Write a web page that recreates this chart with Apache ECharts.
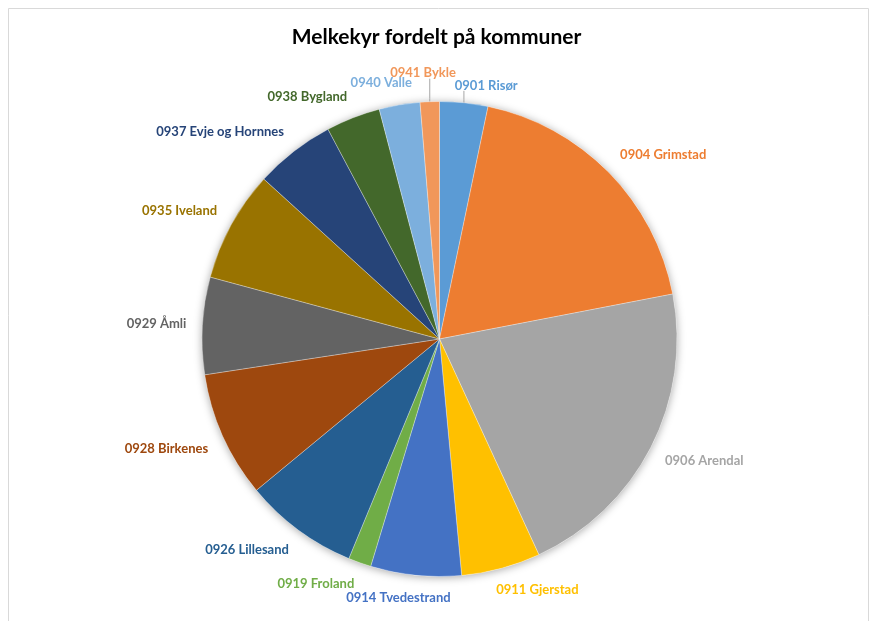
<!DOCTYPE html>
<html>
<head>
<meta charset="utf-8">
<script src="https://cdn.jsdelivr.net/npm/echarts@6/dist/echarts.min.js"></script>
<style>
html,body{margin:0;padding:0;background:#fff;}
#chart{width:873px;height:621px;}
</style>
</head>
<body>
<div id="chart"></div>
<script>
// Data (number of dairy cows per municipality)
const kommuner = ['0901 Risør','0904 Grimstad','0906 Arendal','0911 Gjerstad','0914 Tvedestrand','0919 Froland','0926 Lillesand','0928 Birkenes','0929 Åmli','0935 Iveland','0937 Evje og Hornnes','0938 Bygland','0940 Valle','0941 Bykle'];
const melkekyr = [118, 673, 762, 194, 222, 56, 280, 309, 238, 272, 197, 133, 100, 47];
const farger = ['#5B9BD5','#ED7D31','#A5A5A5','#FFC000','#4472C4','#70AD47','#255E91','#9E480E','#636363','#997300','#264478','#43682B','#7CAFDD','#F1975A'];

const CX = 439.5, CY = 339, RADIUS = 237.5, GAP = 16;
const total = melkekyr.reduce((a, b) => a + b, 0);
const cum = [];
melkekyr.reduce((acc, v, i) => { cum[i] = acc; return acc + v; }, 0);

// labels with leader lines (moved in the original)
const leaderNudge = { '0901 Risør': [11, 5], '0941 Bykle': [-2, -6] };

const chart = echarts.init(document.getElementById('chart'));
const clamp = v => Math.max(-1, Math.min(1, v));

chart.setOption({
  backgroundColor: '#ffffff',
  animation: false,
  title: {
    text: 'Melkekyr fordelt på kommuner',
    left: 'center',
    top: 22,
    textStyle: { fontFamily: 'Lato', fontWeight: 'bold', fontSize: 21, color: '#000' }
  },
  graphic: [{
    type: 'rect',
    shape: { x: 8.5, y: 8.5, width: 860, height: 640 },
    style: { fill: 'none', stroke: '#d9d9d9', lineWidth: 1 },
    silent: true
  }],
  series: [
    {
      type: 'pie',
      silent: true,
      center: [CX, CY],
      radius: RADIUS,
      z: 1,
      label: { show: false },
      labelLine: { show: false },
      itemStyle: { color: '#ffffff', shadowBlur: 8, shadowColor: 'rgba(0,0,0,0.35)', shadowOffsetX: 0, shadowOffsetY: 1 },
      data: [{ value: total, name: '' }]
    },
    {
      type: 'pie',
      center: [CX, CY],
      radius: RADIUS,
      startAngle: 90,
      clockwise: true,
      z: 2,
      avoidLabelOverlap: false,
      itemStyle: { borderColor: 'rgba(255,255,255,0.6)', borderWidth: 0.5 },
      label: {
        show: true,
        position: 'outside',
        fontFamily: 'Lato',
        fontWeight: 'bold',
        fontSize: 13,
        formatter: '{b}'
      },
      labelLine: { show: false, lineStyle: { color: '#a6a6a6', width: 1 } },
      labelLayout: function (p) {
        const i = p.dataIndex;
        const mid = (cum[i] + melkekyr[i] / 2) / total * 2 * Math.PI;
        const ux = Math.sin(mid), uy = -Math.cos(mid);
        const R = RADIUS + GAP;
        const w = p.labelRect.width, h = p.labelRect.height;
        let x = CX + R * ux + w / 2 * clamp(ux * 3);
        let y = CY + R * uy + h / 2 * clamp(uy * 3);
        const res = { x: x, y: y, align: 'center', verticalAlign: 'middle' };
        const n = leaderNudge[kommuner[i]];
        if (n) {
          res.x = x + n[0];
          res.y = y + n[1];
          const ex = CX + RADIUS * ux, ey = CY + RADIUS * uy;
          res.labelLinePoints = [[ex, ey], [ex, ey - 3], [ex, res.y + h / 2 - 1]];
        }
        return res;
      },
      data: kommuner.map((k, i) => ({
        name: k,
        value: melkekyr[i],
        itemStyle: { color: farger[i] },
        label: { color: farger[i] },
        labelLine: { show: !!leaderNudge[k] }
      }))
    }
  ]
});
</script>
</body>
</html>
